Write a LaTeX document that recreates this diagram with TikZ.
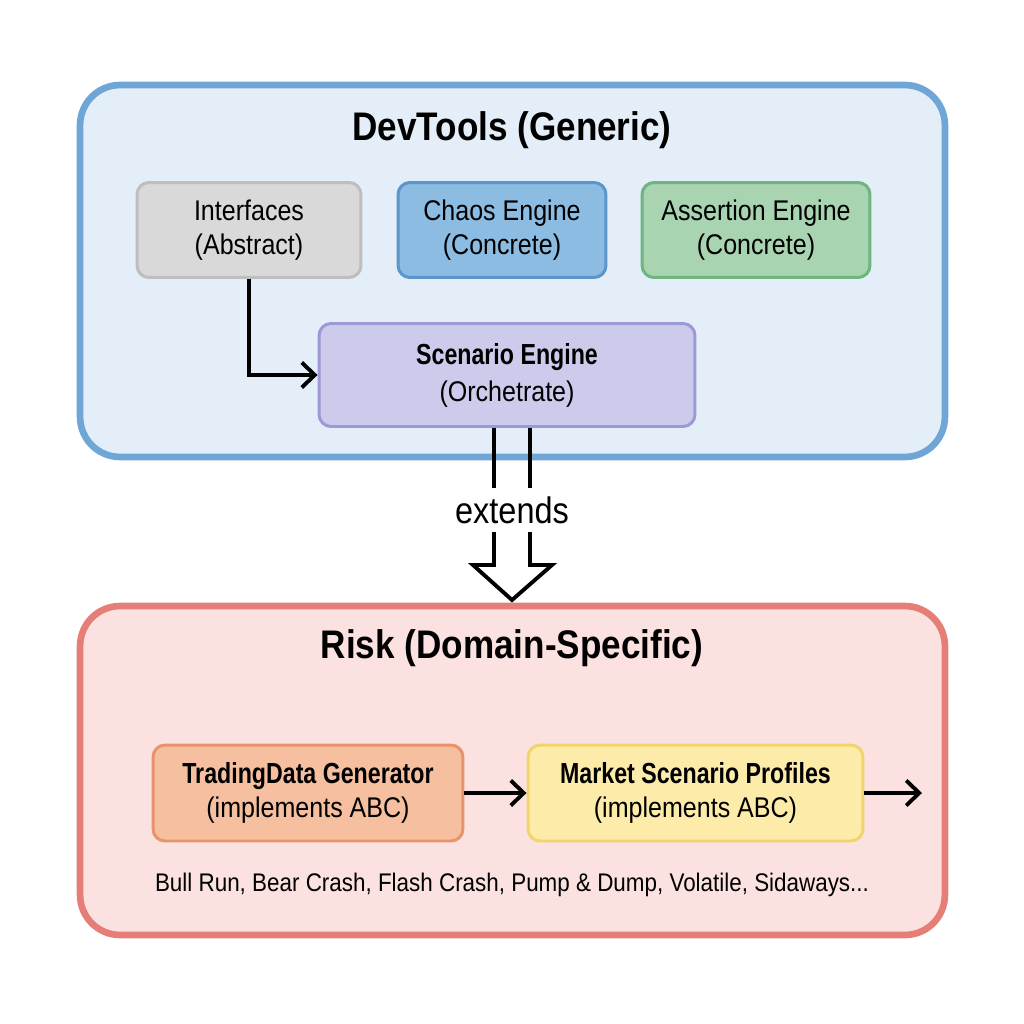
\documentclass[tikz,border=0pt]{standalone}
\usepackage{fontspec}
\setmainfont[FakeStretch=0.88]{Liberation Sans}
\usetikzlibrary{arrows.meta}

\definecolor{devfill}{HTML}{E3EEF8}
\definecolor{devline}{HTML}{6FA6D6}
\definecolor{ifacefill}{HTML}{D9D9D9}
\definecolor{ifaceline}{HTML}{BEBEBE}
\definecolor{chaosfill}{HTML}{8CBCE2}
\definecolor{chaosline}{HTML}{5B95CA}
\definecolor{assertfill}{HTML}{A8D4B1}
\definecolor{assertline}{HTML}{6DB47F}
\definecolor{scenfill}{HTML}{CDCBEB}
\definecolor{scenline}{HTML}{9E98D6}
\definecolor{riskfill}{HTML}{FBE2E0}
\definecolor{riskline}{HTML}{E47E77}
\definecolor{tradefill}{HTML}{F6BFA0}
\definecolor{tradeline}{HTML}{E8946A}
\definecolor{marketfill}{HTML}{FDEBA9}
\definecolor{marketline}{HTML}{F3D36B}

\newcommand{\boldlabel}[1]{{\fontsize{16.5}{19}\selectfont\bfseries\addfontfeatures{FakeStretch=0.8}#1}}

\tikzset{
  group/.style = {draw, line width=3.8pt, rounded corners=0.8cm},
  block/.style = {draw, line width=1.7pt, rounded corners=0.24cm, align=center,
                  minimum height=1.9cm, font=\fontsize{16.2}{19.5}\selectfont},
  title/.style = {font=\fontsize{22.7}{26}\selectfont\bfseries},
  flow/.style  = {line width=2.2pt, -{Straight Barb[length=2.6mm,width=5mm,line width=2.2pt]}},
}

\begin{document}
\begin{tikzpicture}[x=0.02cm, y=-0.02cm]
    \useasboundingbox[fill=white] (0,0) rectangle (1024,1024);

    \node (DevTools) [group, fill=devfill, draw=devline, minimum width=17.3cm, minimum height=7.44cm] at (512.5,271) {};
    \node (Risk) [group, fill=riskfill, draw=riskline, minimum width=17.3cm, minimum height=6.58cm] at (512.5,770.5) {};

    \node (DevToolsTitle) [title] at (512,130) {DevTools (Generic)};
    \node (RiskTitle) [title] at (512,648) {Risk (Domain-Specific)};

    \node (Interfaces) [block, fill=ifacefill, draw=ifaceline, minimum width=4.48cm] at (249,230) {Interfaces\\(Abstract)};
    \node (Chaos) [block, fill=chaosfill, draw=chaosline, minimum width=4.16cm] at (502,230) {Chaos Engine\\(Concrete)};
    \node (Assertion) [block, fill=assertfill, draw=assertline, minimum width=4.56cm] at (756,230) {Assertion Engine\\(Concrete)};
    \node (Scenario) [block, fill=scenfill, draw=scenline, minimum width=7.52cm, minimum height=2.06cm, font=\fontsize{16.2}{21}\selectfont] at (507,375) {\boldlabel{Scenario Engine}\\(Orchetrate)};

    \node (TradingData) [block, fill=tradefill, draw=tradeline, minimum width=6.2cm, minimum height=1.92cm] at (308,793) {\boldlabel{TradingData Generator}\\(implements ABC)};
    \node (Market) [block, fill=marketfill, draw=marketline, minimum width=6.7cm, minimum height=1.92cm] at (695.5,793) {\boldlabel{Market Scenario Profiles}\\(implements ABC)};
    \node (Profiles) [font=\fontsize{14.5}{18}\selectfont] at (512,885) {Bull Run, Bear Crash, Flash Crash, Pump \& Dump, Volatile, Sidaways...};

    \node (Extends) [font=\fontsize{21}{25}\selectfont] at (512,510) {extends};
    \coordinate (ExtL) at (494,488);
    \coordinate (ExtR) at (530,488);
    \coordinate (ExtTip) at (512,600);
    \coordinate (MarketOut) at (922,793);

    \draw[flow] (Interfaces.south) |- (Scenario.west);
    \draw[flow] (TradingData.east) -- (Market.west);
    \draw[flow] (Market.east) -- (MarketOut);

    \draw[line width=2.2pt] (Scenario.south -| ExtL) -- (ExtL);
    \draw[line width=2.2pt] (Scenario.south -| ExtR) -- (ExtR);
    \draw[line width=2.2pt, line join=miter] (494,532) -- (494,565) -- (473,565) -- (ExtTip) -- (552,565) -- (530,565) -- (530,532);
\end{tikzpicture}
\end{document}
